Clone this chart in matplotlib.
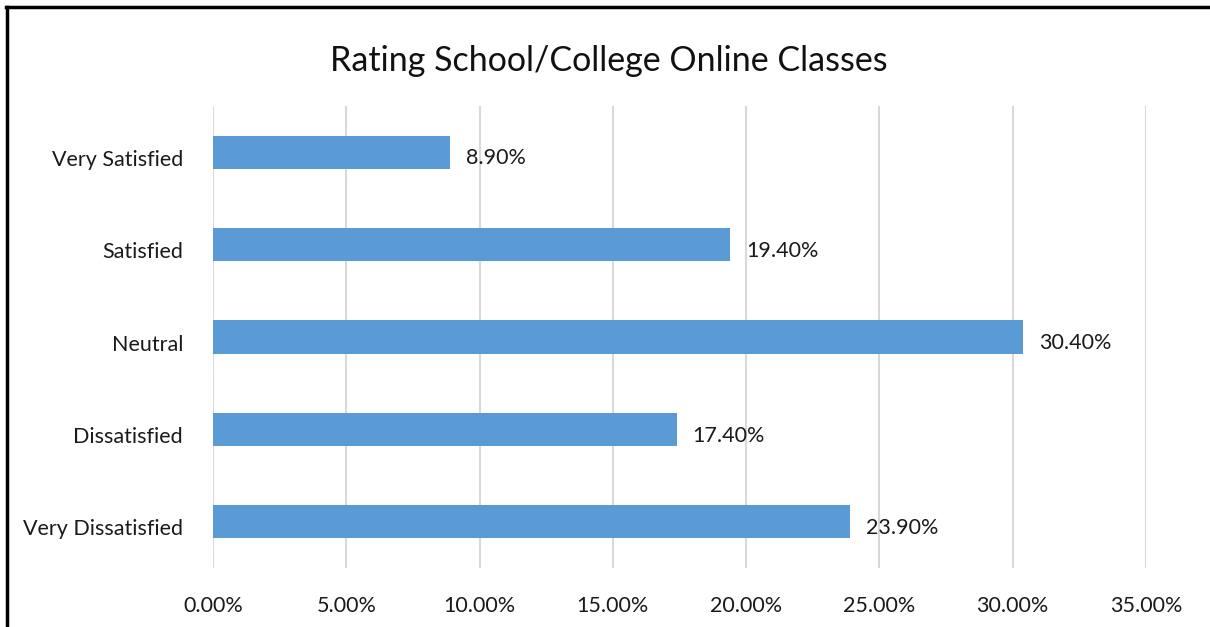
import numpy as np
from matplotlib import pyplot as plt
from matplotlib import transforms
from matplotlib.ticker import FuncFormatter

plt.rcParams['font.family'] = ['Lato', 'DejaVu Sans']

categories = ['Very Dissatisfied', 'Dissatisfied', 'Neutral', 'Satisfied', 'Very Satisfied']
values = [23.9, 17.4, 30.4, 19.4, 8.9]
x_ticks = np.arange(0, 36, 5)

BAR_COLOR = '#5B9BD5'
GRID_COLOR = '#D9D9D9'
TEXT_COLOR = '#1A1A1A'


def main():
    fig = plt.figure(figsize=(12.1, 6.27), dpi=100)
    ax = fig.add_axes([0.176, 0.094, 0.771, 0.737])

    y = np.arange(len(categories))
    ax.barh(y, values, height=0.36, color=BAR_COLOR, zorder=2)

    # value labels to the right of each bar
    for yi, v in zip(y, values):
        ax.annotate(f'{v:.2f}%', (v, yi), xytext=(11.5, -4.5), textcoords='offset points',
                    ha='left', va='center', fontsize=15.5, color=TEXT_COLOR)

    ax.set_xlim(0, 35)
    ax.set_ylim(-0.5, len(categories) - 0.5)
    ax.set_xticks(x_ticks)
    ax.xaxis.set_major_formatter(FuncFormatter(lambda v, _: f'{v:.2f}%'))
    ax.set_yticks(y)
    ax.set_yticklabels(categories)
    ax.tick_params(axis='both', length=0, labelsize=15.5, colors=TEXT_COLOR)
    ax.tick_params(axis='x', pad=20)
    ax.tick_params(axis='y', pad=21.5)

    # category labels sit a little below the bar centre, like the Excel original
    shift = transforms.ScaledTranslation(0, -4 / 72, fig.dpi_scale_trans)
    for lbl in ax.get_yticklabels():
        lbl.set_transform(lbl.get_transform() + shift)

    ax.grid(axis='x', color=GRID_COLOR, linewidth=1.5, zorder=0)
    ax.set_axisbelow(True)
    for s in ax.spines.values():
        s.set_visible(False)

    fig.text(0.503, 0.902, 'Rating School/College Online Classes', ha='center', va='center',
             fontsize=24.5, color='#111111')

    # outer chart border (left and top visible)
    fig.add_artist(plt.Line2D([0.006, 0.006], [0.0, 0.989], color='black', linewidth=2.5,
                              transform=fig.transFigure))
    fig.add_artist(plt.Line2D([0.005, 1.0], [0.989, 0.989], color='black', linewidth=2.5,
                              transform=fig.transFigure))

    fig.savefig('out.png', dpi=100)


if __name__ == '__main__':
    main()
